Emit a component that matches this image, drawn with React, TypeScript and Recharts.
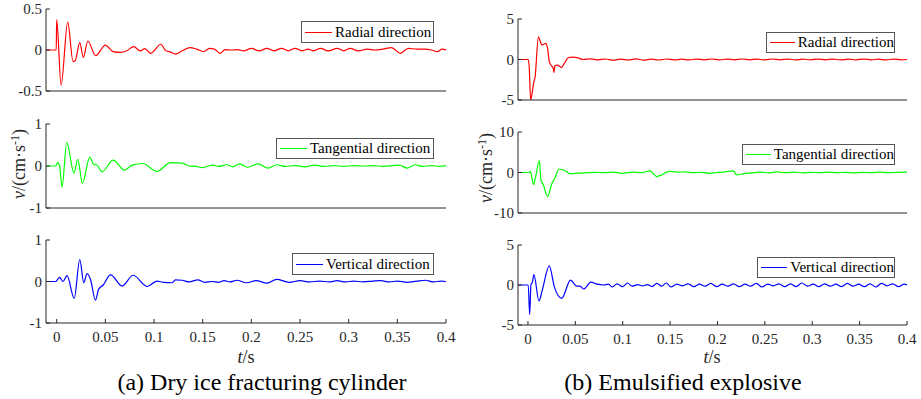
import React from "react";
import { LineChart, Line, XAxis, YAxis } from "recharts";

type Pt = [number, number];

const timeTicks = [0, 0.05, 0.1, 0.15, 0.2, 0.25, 0.3, 0.35, 0.4];
const timeTickLabels = ["0", "0.05", "0.1", "0.15", "0.2", "0.25", "0.3", "0.35", "0.4"];

const ticksHalf = [-0.5, 0, 0.5];
const ticksOne = [-1, 0, 1];
const ticksFive = [-5, 0, 5];
const ticksTen = [-10, 0, 10];

const legendLabels = ["Radial direction", "Tangential direction", "Vertical direction"];
const titles = ["(a) Dry ice fracturing cylinder", "(b) Emulsified explosive"];

const dryRadial: Pt[] = [
  [-0.011, 0], [-0.0005, 0], [0, 0.37], [0.0045, -0.43], [0.0113, 0.34], [0.0168, -0.14], [0.019, -0.13],
  [0.0237, 0.09], [0.0274, -0.09], [0.032, 0.11], [0.04, -0.07], [0.05, 0.06], [0.058, -0.02], [0.0655, -0.03],
  [0.072, -0.01], [0.079, 0.04], [0.086, -0.01], [0.0906, 0.016], [0.0964, -0.04], [0.107, 0.07], [0.112, -0.01],
  [0.116, -0.02], [0.122, -0.05], [0.129, -0.01], [0.137, 0.03], [0.144, 0.01], [0.151, -0.02], [0.157, 0.02],
  [0.162, 0.01], [0.168, -0.04], [0.173, 0.005], [0.18, 0], [0.186, 0.005], [0.192, -0.01], [0.2, 0.02],
  [0.208, -0.01], [0.216, 0.02], [0.223, -0.01], [0.231, 0.02], [0.238, -0.01], [0.245, 0.02], [0.252, -0.01],
  [0.258, 0.01], [0.264, -0.01], [0.271, 0.02], [0.279, -0.01], [0.288, 0.02], [0.295, -0.01], [0.3015, 0.02],
  [0.31, -0.01], [0.319, 0.01], [0.327, 0], [0.335, 0.01], [0.344, 0.03], [0.353, -0.04], [0.3615, 0.02],
  [0.37, 0.01], [0.378, 0.01], [0.385, 0], [0.391, -0.02], [0.396, 0.01], [0.4, 0],
];

const dryTangential: Pt[] = [
  [-0.011, 0], [-0.0013, 0], [0.001, 0.08], [0.003, 0], [0.0055, -0.5], [0.0103, 0.56], [0.0178, -0.17],
  [0.0216, 0.16], [0.0264, -0.41], [0.034, 0.21], [0.038, 0.04], [0.041, 0.03], [0.0466, -0.14], [0.058, 0.14],
  [0.0697, -0.1], [0.0775, 0.02], [0.0885, 0.06], [0.103, -0.13], [0.117, 0.08], [0.129, 0.07], [0.136, 0],
  [0.143, -0.01], [0.15, -0.04], [0.156, 0], [0.161, 0.02], [0.166, -0.01], [0.1746, 0.03], [0.181, -0.02],
  [0.188, 0.05], [0.196, -0.03], [0.207, 0.05], [0.217, -0.05], [0.226, 0.03], [0.235, -0.01], [0.245, 0.01],
  [0.255, -0.02], [0.265, 0.02], [0.275, -0.01], [0.285, 0.01], [0.295, -0.01], [0.305, 0.01], [0.315, 0],
  [0.325, 0.01], [0.335, -0.01], [0.345, 0.01], [0.352, 0.02], [0.36, -0.05], [0.368, 0.03], [0.376, -0.01],
  [0.385, 0.01], [0.393, -0.01], [0.4, 0.01],
];

const dryVertical: Pt[] = [
  [-0.011, 0], [-0.001, 0], [0.003, 0.1], [0.0065, 0], [0.0106, 0.14], [0.018, -0.41], [0.0237, 0.53],
  [0.0278, -0.03], [0.0312, 0.19], [0.0347, 0.05], [0.0398, -0.45], [0.043, -0.19], [0.0476, -0.09],
  [0.0553, 0.16], [0.0672, -0.11], [0.0785, 0.15], [0.093, -0.12], [0.103, 0.01], [0.11, -0.02], [0.1185, -0.03],
  [0.122, 0.04], [0.129, 0.03], [0.136, -0.01], [0.145, 0.04], [0.152, -0.02], [0.16, 0], [0.166, -0.02],
  [0.172, 0.02], [0.178, -0.01], [0.185, 0.03], [0.195, -0.03], [0.205, 0.02], [0.216, -0.04], [0.226, 0.05],
  [0.239, -0.02], [0.25, 0.02], [0.26, -0.01], [0.27, 0.01], [0.28, -0.01], [0.288, 0.02], [0.297, -0.01],
  [0.305, 0.01], [0.315, -0.01], [0.325, 0.01], [0.333, 0.02], [0.342, -0.01], [0.35, 0.01], [0.36, -0.02],
  [0.37, 0.01], [0.379, 0.03], [0.387, -0.01], [0.395, 0.01], [0.4, 0],
];

const emRadial: Pt[] = [
  [-0.0105, 0], [0.0003, 0], [0.0014, -1.1], [0.0028, -5], [0.0042, -4.3], [0.0063, -2.7], [0.0075, -2.2],
  [0.011, 2.8], [0.0137, 2.0], [0.0151, 1.8], [0.0186, 2.0], [0.0207, 1.4], [0.0225, -0.27], [0.0243, -0.7],
  [0.0267, -1.1], [0.0274, -1.6], [0.0285, -0.76], [0.031, -0.7], [0.0355, -0.96], [0.0383, -0.5],
  [0.0425, 0.22], [0.0468, 0.3], [0.053, 0.2], [0.058, 0], [0.066, 0.08], [0.074, -0.05], [0.082, 0.06],
  [0.09, -0.08], [0.098, 0.05], [0.106, -0.06], [0.114, 0.07], [0.122, -0.08], [0.13, 0.05], [0.138, -0.06],
  [0.146, 0.06], [0.154, -0.05], [0.162, 0.04], [0.17, -0.05], [0.178, 0.05], [0.186, -0.04], [0.194, 0.06],
  [0.202, -0.05], [0.21, 0.05], [0.218, -0.04], [0.226, 0.06], [0.234, -0.04], [0.242, 0.05], [0.25, -0.05],
  [0.258, 0.06], [0.266, -0.04], [0.274, 0.05], [0.282, -0.05], [0.29, 0.04], [0.298, -0.04], [0.306, 0.05],
  [0.314, -0.04], [0.322, 0.05], [0.33, -0.05], [0.338, 0.04], [0.346, -0.04], [0.354, 0.05], [0.362, -0.04],
  [0.37, 0.04], [0.378, -0.05], [0.386, 0.05], [0.394, -0.04], [0.4, 0],
];

const emTangential: Pt[] = [
  [-0.0105, 0], [0.002, 0], [0.0025, 0.3], [0.006, -3.0], [0.008, -1.2], [0.012, 2.9], [0.0137, -1.8],
  [0.016, -2.9], [0.0208, -5.9], [0.025, -2.9], [0.0285, -1.36], [0.0327, 0.8], [0.039, 0.5], [0.0443, -0.3],
  [0.05, -0.2], [0.06, -0.1], [0.07, 0.05], [0.08, -0.05], [0.09, 0.1], [0.099, -0.2], [0.111, 0.1],
  [0.12, -0.05], [0.1288, 0.4], [0.1358, -1.0], [0.142, -0.5], [0.1488, 0.3], [0.158, 0.1], [0.166, 0.15],
  [0.175, -0.05], [0.184, 0.05], [0.192, -0.2], [0.2, 0], [0.208, 0.15], [0.2167, 0.4], [0.2203, -0.6],
  [0.228, -0.3], [0.236, -0.1], [0.245, 0.1], [0.254, -0.1], [0.263, 0.15], [0.272, -0.05], [0.281, 0.1],
  [0.29, -0.1], [0.299, 0.05], [0.308, -0.05], [0.317, 0.1], [0.326, -0.05], [0.335, 0.05], [0.344, -0.1],
  [0.353, 0.05], [0.362, -0.05], [0.371, 0.1], [0.38, -0.05], [0.389, 0.05], [0.398, 0.1], [0.4, 0.1],
];

const emVertical: Pt[] = [
  [-0.0105, 0], [0.0003, 0], [0.0018, -3.7], [0.0032, 0.1], [0.0046, 0.3], [0.0063, 1.3], [0.0116, -2.0],
  [0.015, -0.7], [0.0225, 2.4], [0.028, -0.3], [0.0356, -1.66], [0.045, 0.6], [0.0514, -0.15], [0.055, -0.15],
  [0.0588, -0.5], [0.0665, 0.35], [0.073, 0.1], [0.08, 0], [0.085, 0.1], [0.089, -0.25], [0.094, 0.15],
  [0.1, -0.2], [0.105, 0.25], [0.11, -0.15], [0.116, 0.05], [0.121, -0.1], [0.126, 0.05], [0.131, -0.2],
  [0.136, 0.2], [0.141, -0.15], [0.146, 0.25], [0.151, -0.25], [0.157, 0.1], [0.163, -0.1], [0.169, 0.15],
  [0.175, -0.2], [0.181, 0.1], [0.187, -0.15], [0.193, 0.2], [0.199, -0.2], [0.205, 0.1], [0.211, -0.15],
  [0.217, 0.15], [0.223, -0.2], [0.229, 0.1], [0.235, -0.15], [0.241, 0.2], [0.247, -0.25], [0.253, 0.1],
  [0.259, -0.1], [0.265, 0.15], [0.271, -0.2], [0.277, 0.15], [0.283, -0.2], [0.289, 0.25], [0.295, -0.15],
  [0.301, 0.1], [0.307, -0.2], [0.313, 0.15], [0.319, -0.15], [0.325, 0.1], [0.331, -0.2], [0.337, 0.2],
  [0.343, -0.15], [0.349, 0.1], [0.355, -0.2], [0.361, 0.15], [0.367, -0.25], [0.373, 0.2], [0.379, -0.1],
  [0.385, 0.15], [0.391, -0.2], [0.397, 0.1], [0.4, 0],
];

const FONT = "'Liberation Serif', 'Times New Roman', serif";
const AXIS = "#262626";

type PanelProps = {
  L: number; T: number; W: number; H: number;
  series: Pt[]; color: string; yTicks: number[]; xMin: number; showX: boolean;
  legend: { text: string; l: number; t: number; w: number; h: number };
};

function Panel({ L, T, W, H, series, color, yTicks, xMin, showX, legend }: PanelProps) {
  const data = series.map(([t, v]) => ({ t, v }));
  const yW = 50;
  const xH = showX ? 40 : 10;
  const mTop = 10;
  const mRight = 10;
  const fmtX = (v: number) => {
    const i = timeTicks.indexOf(v);
    return i >= 0 ? timeTickLabels[i] : String(v);
  };
  return (
    <>
      <div style={{ position: "absolute", left: L - yW, top: T - mTop }}>
        <LineChart
          width={W + yW + mRight}
          height={H + mTop + xH}
          data={data}
          margin={{ top: mTop, right: mRight, bottom: 0, left: 0 }}
        >
          <XAxis
            xAxisId="b"
            dataKey="t"
            type="number"
            domain={[xMin, 0.4]}
            allowDataOverflow
            ticks={timeTicks}
            tickFormatter={fmtX}
            height={xH}
            tick={showX ? { fill: AXIS, fontFamily: FONT, fontSize: 15 } : false}
            tickSize={-4}
            tickMargin={12}
            axisLine={{ stroke: AXIS }}
            tickLine={{ stroke: AXIS }}
          />
          <XAxis
            xAxisId="top"
            orientation="top"
            dataKey="t"
            type="number"
            domain={[xMin, 0.4]}
            allowDataOverflow
            ticks={timeTicks}
            height={0}
            tick={false}
            tickSize={-4}
            axisLine={{ stroke: AXIS }}
            tickLine={{ stroke: AXIS }}
          />
          <YAxis
            yAxisId="l"
            type="number"
            domain={[yTicks[0], yTicks[yTicks.length - 1]]}
            allowDataOverflow
            ticks={yTicks}
            width={yW}
            tick={{ fill: AXIS, fontFamily: FONT, fontSize: 15 }}
            tickSize={-4}
            tickMargin={8}
            axisLine={{ stroke: AXIS }}
            tickLine={{ stroke: AXIS }}
          />
          <YAxis
            yAxisId="r"
            orientation="right"
            type="number"
            domain={[yTicks[0], yTicks[yTicks.length - 1]]}
            allowDataOverflow
            ticks={yTicks}
            width={0}
            tick={false}
            tickSize={-4}
            axisLine={{ stroke: AXIS }}
            tickLine={{ stroke: AXIS }}
          />
          <Line
            xAxisId="b"
            yAxisId="l"
            dataKey="v"
            type="monotone"
            stroke={color}
            strokeWidth={1.2}
            dot={false}
            isAnimationActive={false}
          />
        </LineChart>
      </div>
      <div
        style={{
          position: "absolute",
          left: legend.l,
          top: legend.t,
          width: legend.w,
          height: legend.h,
          boxSizing: "border-box",
          border: "1px solid #555",
          background: "#fff",
          display: "flex",
          alignItems: "center",
          paddingLeft: 3,
          fontFamily: FONT,
          fontSize: 15,
          color: "#000",
          whiteSpace: "nowrap",
        }}
      >
        <div style={{ width: 27, height: 0, borderTop: `1.3px solid ${color}`, marginRight: 3 }} />
        <span>{legend.text}</span>
      </div>
    </>
  );
}

function YLabel({ cx, cy }: { cx: number; cy: number }) {
  return (
    <div
      style={{
        position: "absolute",
        left: cx - 60,
        top: cy - 11,
        width: 120,
        height: 22,
        lineHeight: "22px",
        textAlign: "center",
        transform: "rotate(-90deg)",
        fontFamily: FONT,
        fontSize: 18,
        color: AXIS,
        whiteSpace: "nowrap",
      }}
    >
      <i>v</i>/(cm·s<sup style={{ fontSize: 12, verticalAlign: "6px", lineHeight: 0 }}>-1</sup>)
    </div>
  );
}

function XLabel({ cx, cy }: { cx: number; cy: number }) {
  return (
    <div
      style={{
        position: "absolute",
        left: cx - 40,
        top: cy - 11,
        width: 80,
        height: 22,
        lineHeight: "22px",
        textAlign: "center",
        fontFamily: FONT,
        fontSize: 18,
        color: AXIS,
      }}
    >
      <i>t</i>/s
    </div>
  );
}

function Title({ cx, cy, text }: { cx: number; cy: number; text: string }) {
  return (
    <div
      style={{
        position: "absolute",
        left: cx - 200,
        top: cy - 15,
        width: 400,
        height: 30,
        lineHeight: "30px",
        textAlign: "center",
        fontFamily: FONT,
        fontSize: 24,
        color: "#000",
      }}
    >
      {text}
    </div>
  );
}

export default function App() {
  return (
    <div style={{ position: "absolute", left: 0, top: 0, width: 921, height: 399, background: "#fff", overflow: "hidden" }}>
      <Panel L={46} T={9} W={400} H={82} series={dryRadial} color="#ff0000" yTicks={ticksHalf} xMin={-0.011} showX={false}
        legend={{ text: legendLabels[0], l: 301, t: 21, w: 133, h: 22 }} />
      <Panel L={46} T={124} W={400} H={84} series={dryTangential} color="#00ff00" yTicks={ticksOne} xMin={-0.011} showX={false}
        legend={{ text: legendLabels[1], l: 276, t: 138, w: 158, h: 21 }} />
      <Panel L={46} T={240} W={400} H={83} series={dryVertical} color="#0000ff" yTicks={ticksOne} xMin={-0.011} showX={true}
        legend={{ text: legendLabels[2], l: 292, t: 253, w: 142, h: 22 }} />
      <Panel L={518} T={19} W={389} H={81} series={emRadial} color="#ff0000" yTicks={ticksFive} xMin={-0.0105} showX={false}
        legend={{ text: legendLabels[0], l: 766, t: 32, w: 129, h: 21 }} />
      <Panel L={518} T={132} W={389} H={81} series={emTangential} color="#00ff00" yTicks={ticksTen} xMin={-0.0105} showX={false}
        legend={{ text: legendLabels[1], l: 742, t: 144, w: 153, h: 21 }} />
      <Panel L={518} T={245} W={389} H={80} series={emVertical} color="#0000ff" yTicks={ticksFive} xMin={-0.0105} showX={true}
        legend={{ text: legendLabels[2], l: 757, t: 257, w: 138, h: 21 }} />
      <YLabel cx={19} cy={164} />
      <YLabel cx={486} cy={168} />
      <XLabel cx={246} cy={357} />
      <XLabel cx={712} cy={357} />
      <Title cx={262} cy={382} text={titles[0]} />
      <Title cx={683} cy={382} text={titles[1]} />
    </div>
  );
}
